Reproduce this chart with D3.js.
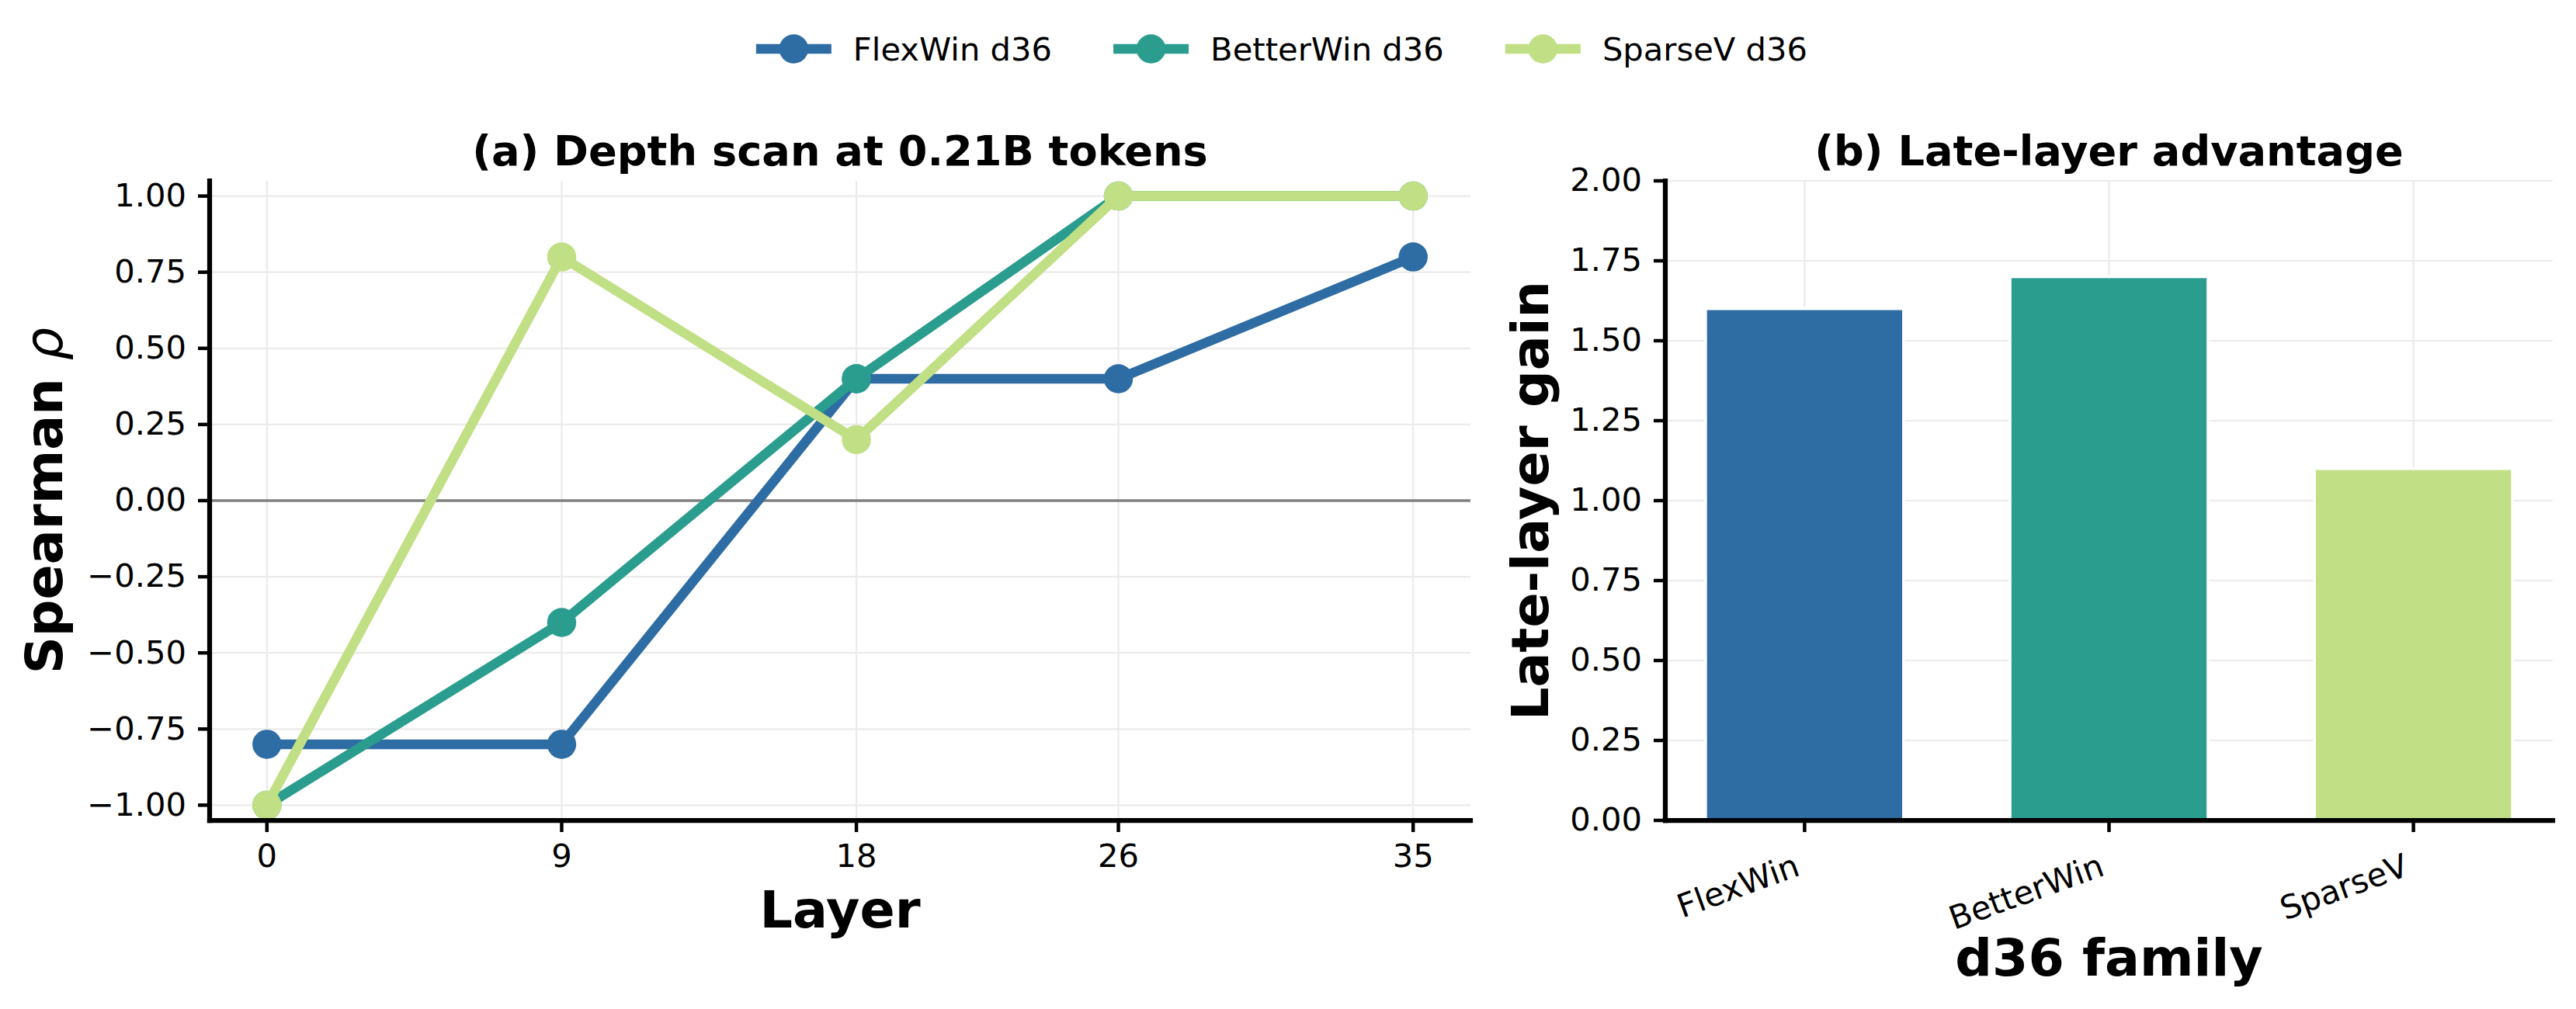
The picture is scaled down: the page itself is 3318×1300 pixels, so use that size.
<!DOCTYPE html>
<html>
<head>
<meta charset="utf-8">
<script src="https://cdn.jsdelivr.net/npm/d3@7"></script>
<style>
  body { margin: 0; background: #fff; }
  text { font-family: "DejaVu Sans", sans-serif; fill: #000; }
</style>
</head>
<body>
<div id="chart"></div>
<script>
// Data
const layers = [0, 9, 18, 26, 35];
const seriesNames = ["FlexWin d36", "BetterWin d36", "SparseV d36"];
const flexWin = [-0.8, -0.8, 0.4, 0.4, 0.8];
const betterWin = [-1.0, -0.4, 0.4, 1.0, 1.0];
const sparseV = [-1.0, 0.8, 0.2, 1.0, 1.0];
const families = ["FlexWin", "BetterWin", "SparseV"];
const gains = [1.6, 1.7, 1.1];
const yTicksA = [-1, -0.75, -0.5, -0.25, 0, 0.25, 0.5, 0.75, 1];
const yTicksB = [0, 0.25, 0.5, 0.75, 1, 1.25, 1.5, 1.75, 2];
const colors = ["#2e6ca4", "#2a9d8e", "#c1df84"];

const W = 3318, H = 1300;
const tickFont = 41.7, labelFont = 66.7, titleFont = 54.2;

const svg = d3.select("#chart").append("svg")
  .attr("width", W)
  .attr("height", H)
  .style("background", "#fff");

const fmt = d3.format(".2f");

// Panel (a) scales
const xA = d3.scaleLinear().domain([-1.75, 36.75]).range([270, 1894]);
const yA = d3.scaleLinear().domain([-1.05, 1.05]).range([1057, 233]);

// Panel (b) scales
const xB = d3.scaleLinear().domain([-0.4575, 2.4575]).range([2145, 3288]);
const yB = d3.scaleLinear().domain([0, 2]).range([1057, 233]);

function grid(g, xs, ys, xVals, yVals) {
  g.selectAll("line.hgrid")
    .data(yVals)
    .enter().append("line")
    .attr("class", "hgrid")
    .attr("x1", xs.range()[0]).attr("x2", xs.range()[1])
    .attr("y1", d => ys(d)).attr("y2", d => ys(d))
    .style("stroke", "#ebebeb")
    .style("stroke-width", 2.2);
  g.selectAll("line.vgrid")
    .data(xVals)
    .enter().append("line")
    .attr("class", "vgrid")
    .attr("x1", d => xs(d)).attr("x2", d => xs(d))
    .attr("y1", ys.range()[0]).attr("y2", ys.range()[1])
    .style("stroke", "#ebebeb")
    .style("stroke-width", 2.2);
}

function styleAxis(g) {
  g.select(".domain")
    .style("stroke", "#000")
    .style("stroke-width", 6.25)
    .style("stroke-linecap", "square");
  g.selectAll(".tick line")
    .style("stroke", "#000")
    .style("stroke-width", 4.5);
  g.selectAll(".tick text")
    .style("font-size", tickFont + "px")
    .style("font-family", "DejaVu Sans")
    .style("fill", "#000");
}

// ---------- Panel (a) ----------
const gA = svg.append("g");
grid(gA, xA, yA, layers, yTicksA);

// zero reference line
gA.append("line")
  .attr("x1", xA.range()[0]).attr("x2", xA.range()[1])
  .attr("y1", yA(0)).attr("y2", yA(0))
  .style("stroke", "#808080")
  .style("stroke-width", 3.5);

const allSeries = [flexWin, betterWin, sparseV];
const line = d3.line()
  .x((d, i) => xA(layers[i]))
  .y(d => yA(d));

allSeries.forEach((vals, si) => {
  const s = gA.append("g");
  s.append("path")
    .datum(vals)
    .attr("d", line)
    .style("fill", "none")
    .style("stroke", colors[si])
    .style("stroke-width", 12.5)
    .style("stroke-linejoin", "round");
  s.selectAll("circle")
    .data(vals)
    .enter().append("circle")
    .attr("cx", (d, i) => xA(layers[i]))
    .attr("cy", d => yA(d))
    .attr("r", 18.75)
    .style("fill", colors[si]);
});

const axA_x = gA.append("g")
  .attr("transform", `translate(0,${yA.range()[0]})`)
  .call(d3.axisBottom(xA).tickValues(layers).tickFormat(d3.format("d"))
    .tickSize(15).tickPadding(15).tickSizeOuter(0).offset(0));
styleAxis(axA_x);

const axA_y = gA.append("g")
  .attr("transform", `translate(${xA.range()[0]},0)`)
  .call(d3.axisLeft(yA).tickValues(yTicksA).tickFormat(fmt)
    .tickSize(15).tickPadding(15).tickSizeOuter(0).offset(0));
styleAxis(axA_y);

gA.append("text")
  .attr("x", (xA.range()[0] + xA.range()[1]) / 2)
  .attr("y", 213)
  .attr("text-anchor", "middle")
  .style("font-size", titleFont + "px")
  .style("font-weight", "bold")
  .text("(a) Depth scan at 0.21B tokens");

gA.append("text")
  .attr("x", (xA.range()[0] + xA.range()[1]) / 2)
  .attr("y", 1195)
  .attr("text-anchor", "middle")
  .style("font-size", labelFont + "px")
  .style("font-weight", "bold")
  .text("Layer");

const ylabA = gA.append("text")
  .attr("transform", `translate(80,${(yA.range()[0] + yA.range()[1]) / 2}) rotate(-90)`)
  .attr("text-anchor", "middle")
  .style("font-size", labelFont + "px")
  .style("font-weight", "bold");
ylabA.append("tspan").text("Spearman ");
ylabA.append("tspan")
  .style("font-weight", "normal")
  .style("font-style", "italic")
  .text("ρ");

// ---------- Panel (b) ----------
const gB = svg.append("g");
grid(gB, xB, yB, [0, 1, 2], yTicksB);

const barW = xB(0.65) - xB(0);
gB.selectAll("rect.bar")
  .data(gains)
  .enter().append("rect")
  .attr("class", "bar")
  .attr("x", (d, i) => xB(i) - barW / 2)
  .attr("y", d => yB(d))
  .attr("width", barW)
  .attr("height", d => yB(0) - yB(d))
  .style("fill", (d, i) => colors[i])
  .style("stroke", "#fff")
  .style("stroke-width", 3.5);

const axB_x = gB.append("g")
  .attr("transform", `translate(0,${yB.range()[0]})`)
  .call(d3.axisBottom(xB).tickValues([0, 1, 2]).tickFormat("")
    .tickSize(15).tickSizeOuter(0).offset(0));
styleAxis(axB_x);

gB.selectAll("text.cat")
  .data(families)
  .enter().append("text")
  .attr("class", "cat")
  .attr("text-anchor", "end")
  .attr("transform", (d, i) => `translate(${xB(i) - 4},1127) rotate(-20)`)
  .style("font-size", tickFont + "px")
  .text(d => d);

const axB_y = gB.append("g")
  .attr("transform", `translate(${xB.range()[0]},0)`)
  .call(d3.axisLeft(yB).tickValues(yTicksB).tickFormat(fmt)
    .tickSize(15).tickPadding(15).tickSizeOuter(0).offset(0));
styleAxis(axB_y);

gB.append("text")
  .attr("x", (xB.range()[0] + xB.range()[1]) / 2)
  .attr("y", 213)
  .attr("text-anchor", "middle")
  .style("font-size", titleFont + "px")
  .style("font-weight", "bold")
  .text("(b) Late-layer advantage");

gB.append("text")
  .attr("x", (xB.range()[0] + xB.range()[1]) / 2)
  .attr("y", 1257)
  .attr("text-anchor", "middle")
  .style("font-size", labelFont + "px")
  .style("font-weight", "bold")
  .text("d36 family");

gB.append("text")
  .attr("transform", `translate(1994,${(yB.range()[0] + yB.range()[1]) / 2}) rotate(-90)`)
  .attr("text-anchor", "middle")
  .style("font-size", labelFont + "px")
  .style("font-weight", "bold")
  .text("Late-layer gain");

// ---------- Legend ----------
const legend = svg.append("g");
const handleLen = 97, textGap = 28, itemGap = 79, legY = 63;
const items = seriesNames.map((name, i) => {
  const g = legend.append("g");
  g.append("line")
    .attr("x1", 0).attr("x2", handleLen)
    .attr("y1", legY).attr("y2", legY)
    .style("stroke", colors[i])
    .style("stroke-width", 12.5);
  g.append("circle")
    .attr("cx", handleLen / 2).attr("cy", legY)
    .attr("r", 18.75)
    .style("fill", colors[i]);
  const t = g.append("text")
    .attr("x", handleLen + textGap)
    .attr("y", legY + 15)
    .style("font-size", tickFont + "px")
    .text(name);
  return { g, w: handleLen + textGap + t.node().getComputedTextLength() };
});
const total = d3.sum(items, d => d.w) + itemGap * (items.length - 1);
let cursor = 1651 - total / 2;
items.forEach(it => {
  it.g.attr("transform", `translate(${cursor},0)`);
  cursor += it.w + itemGap;
});
</script>
</body>
</html>
